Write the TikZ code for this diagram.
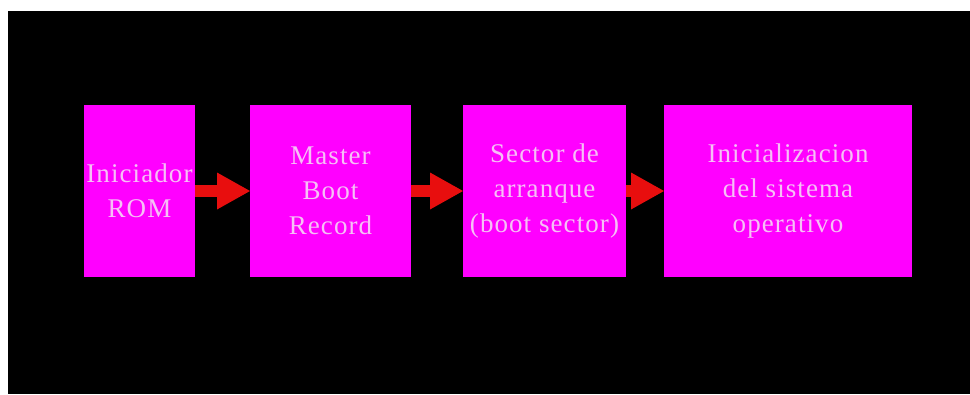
\documentclass[tikz,border=0pt]{standalone}
\usepackage{fontspec}
\setmainfont{Liberation Serif}[LetterSpace=4]
\usepackage{tikz}
\usetikzlibrary{arrows.meta}
\definecolor{fondo}{RGB}{0,0,0}
\definecolor{magenta1}{RGB}{255,0,255}
\definecolor{rosa}{RGB}{246,192,246}
\definecolor{rojo}{RGB}{232,14,14}
\tikzset{
	bloque/.style 2 args={rectangle,fill=magenta1,text=rosa,outer sep=0pt,inner sep=0pt,minimum width=#1,minimum height=172,align=center,font=\fontsize{27}{35}\selectfont,name=#2},
	flecha/.style={draw=rojo,line width=12pt,-{Triangle[length=33pt,width=37pt,line width=0pt,fill=rojo]}}
}
\begin{document}
\begin{tikzpicture}[x=1pt,y=-1pt]
						\useasboundingbox (0,0) rectangle (970,394);
						\fill [white] (0,0) rectangle (970,394);
						\fill [fondo] (8,11) rectangle (970,394);
						
						\node [bloque={111pt}{rom}] at (139.5,191) {Iniciador\\ROM};
						\node [bloque={161pt}{mbr}] at (330.5,191) {Master\\Boot\\Record};
						\node [bloque={163pt}{sector}] at (544.5,191) {Sector de\\arranque\\(boot sector)};
						\node [bloque={248pt}{so}] at (788,191) {Inicializacion\\del sistema\\operativo};
						
						\draw [flecha] (rom) -- (mbr);
						\draw [flecha] (mbr) -- (sector);
						\draw [flecha] (sector) -- (so);
					\end{tikzpicture}
\end{document}
